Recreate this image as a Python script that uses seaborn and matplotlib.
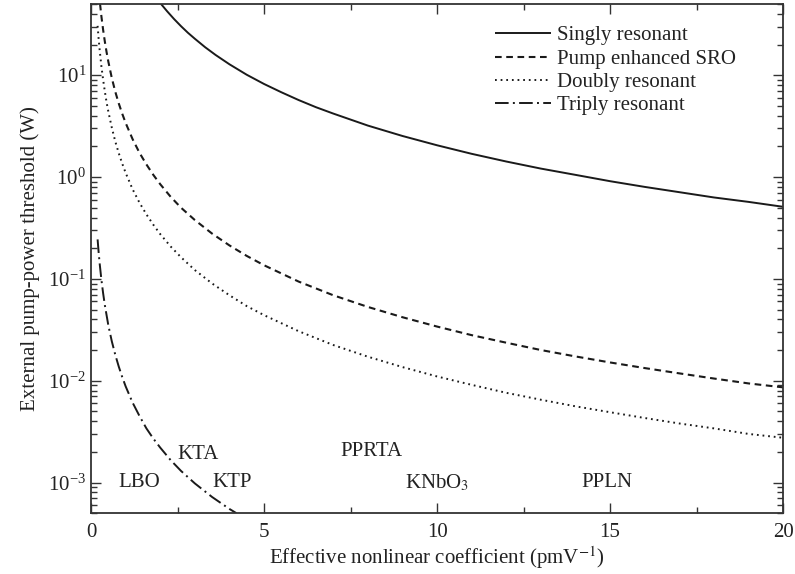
import matplotlib
matplotlib.use("Agg")
import matplotlib.pyplot as plt
import seaborn as sns
import pandas as pd
from matplotlib.ticker import MultipleLocator, LogLocator, NullFormatter

sns.set_theme(style="ticks")
plt.rcParams['font.family'] = ['Liberation Serif', 'DejaVu Serif']
plt.rcParams['mathtext.fontset'] = 'stix'

# Data
x_singly = [2.02, 2.2, 2.4, 2.6, 2.8, 3.0, 3.3, 3.6, 4.0, 4.5, 5.0, 5.5, 6.0, 6.5, 7.0,
            8.0, 9.0, 10.0, 11.0, 12.0, 13.0, 14.0, 15.0, 16.0, 17.0, 18.0, 19.0, 20.0]
y_singly = [50.2, 42.4, 35.6, 30.3, 26.1, 22.8, 18.8, 15.8, 12.8, 10.1, 8.2, 6.8, 5.7, 4.85, 4.2,
            3.2, 2.53, 2.05, 1.69, 1.42, 1.21, 1.05, 0.91, 0.80, 0.71, 0.63, 0.57, 0.51]

x_pump = [0.26, 0.3, 0.35, 0.4, 0.45, 0.5, 0.6, 0.7, 0.8, 0.9, 1.0, 1.2, 1.4, 1.6, 1.8, 2.0,
          2.3, 2.6, 3.0, 3.5, 4.0, 4.5, 5.0, 6.0, 7.0, 8.0, 9.0, 10.0, 11.0, 12.0, 13.0, 14.0,
          15.0, 16.0, 17.0, 18.0, 19.0, 20.0]
y_pump = [50.3, 37.8, 27.8, 21.3, 16.8, 13.6, 9.4, 6.9, 5.3, 4.2, 3.4, 2.36, 1.73, 1.33, 1.05, 0.85,
          0.64, 0.50, 0.378, 0.278, 0.213, 0.168, 0.136, 0.094, 0.069, 0.053, 0.042, 0.034, 0.028,
          0.0236, 0.020, 0.0173, 0.0151, 0.0133, 0.0118, 0.0105, 0.0094, 0.0086]

x_doubly = [0.19, 0.22, 0.25, 0.3, 0.35, 0.4, 0.45, 0.5, 0.6, 0.7, 0.8, 0.9, 1.0, 1.2, 1.4, 1.6,
            1.8, 2.0, 2.3, 2.6, 3.0, 3.5, 4.0, 4.5, 5.0, 6.0, 7.0, 8.0, 9.0, 10.0, 11.0, 12.0,
            13.0, 14.0, 15.0, 16.0, 17.0, 18.0, 19.0, 20.0]
y_doubly = [30.5, 22.7, 17.6, 12.2, 9.0, 6.9, 5.4, 4.4, 3.06, 2.24, 1.72, 1.36, 1.1, 0.76, 0.56, 0.43,
            0.34, 0.275, 0.208, 0.163, 0.122, 0.090, 0.069, 0.054, 0.044, 0.0306, 0.0224, 0.0172,
            0.0136, 0.011, 0.0091, 0.0076, 0.0065, 0.0056, 0.0049, 0.0043, 0.0038, 0.0034, 0.0030,
            0.00275]

x_triply = [0.19, 0.22, 0.25, 0.3, 0.35, 0.4, 0.5, 0.6, 0.7, 0.8, 0.9, 1.0, 1.2, 1.4, 1.6, 1.8,
            2.0, 2.3, 2.6, 3.0, 3.5, 4.0, 4.2]
y_triply = [0.244, 0.182, 0.141, 0.098, 0.072, 0.055, 0.035, 0.0244, 0.018, 0.0138, 0.0109, 0.0088,
            0.0061, 0.0045, 0.0034, 0.0027, 0.0022, 0.00166, 0.0013, 0.00098, 0.00072, 0.00055,
            0.0005]

crystal_names = ["LBO", "KTA", "KTP", "PPRTA", "KNbO$_3$", "PPLN"]
crystal_x = [1.4, 3.1, 4.07, 8.1, 10.0, 14.9]
crystal_y = [1.0e-3, 1.9e-3, 1.0e-3, 2.0e-3, 1.0e-3, 1.0e-3]

series = [
    ("Singly resonant", x_singly, y_singly, (0, ()), 1.4),
    ("Pump enhanced SRO", x_pump, y_pump, (0, (3.2, 2.2)), 1.5),
    ("Doubly resonant", x_doubly, y_doubly, (0, (0.9, 2.0)), 1.4),
    ("Triply resonant", x_triply, y_triply, (0, (7, 2.2, 1.0, 2.2)), 1.4),
]

fig = plt.figure(figsize=(7.95, 5.74), dpi=100)
ax = fig.add_axes([0.1145, 0.106, 0.8705, 0.887])

color = "#1a1a1a"
for name, xs, ys, ls, lw in series:
    df = pd.DataFrame({"x": xs, "y": ys})
    sns.lineplot(data=df, x="x", y="y", ax=ax, color=color, linewidth=lw,
                 linestyle=ls, label=name, sort=False)

ax.set_yscale("log")
ax.set_xlim(0, 20)
ax.set_ylim(5e-4, 50)

ax.xaxis.set_major_locator(MultipleLocator(5))
ax.xaxis.set_minor_locator(MultipleLocator(2.5))
ax.yaxis.set_major_locator(LogLocator(base=10, numticks=20))
ax.yaxis.set_minor_locator(LogLocator(base=10, subs=range(2, 10), numticks=20))
ax.yaxis.set_minor_formatter(NullFormatter())

ax.tick_params(which="both", direction="in", top=True, right=True, colors="#333333",
               labelcolor="#222222", labelsize=15, width=1.0)
ax.tick_params(which="major", length=7)
ax.tick_params(which="minor", length=4)
ax.tick_params(axis="x", pad=7)
for s in ax.spines.values():
    s.set_color("#333333")
    s.set_linewidth(1.3)

ax.set_xlabel("Effective nonlinear coefficient (pmV$^{-1}$)", fontsize=15, color="#222222", labelpad=2)
ax.set_ylabel("External pump-power threshold (W)", fontsize=15, color="#222222", labelpad=6)

for name, cx, cy in zip(crystal_names, crystal_x, crystal_y):
    ax.text(cx, cy, name, ha="center", va="center", fontsize=15, color="#222222")

leg = ax.legend(loc="upper right", bbox_to_anchor=(0.932, 0.957), frameon=False, fontsize=15,
                handlelength=2.7, handletextpad=0.3, labelspacing=0.18, borderaxespad=0,
                borderpad=0)
for t in leg.get_texts():
    t.set_color("#222222")

fig.savefig("out.png", dpi=100)
